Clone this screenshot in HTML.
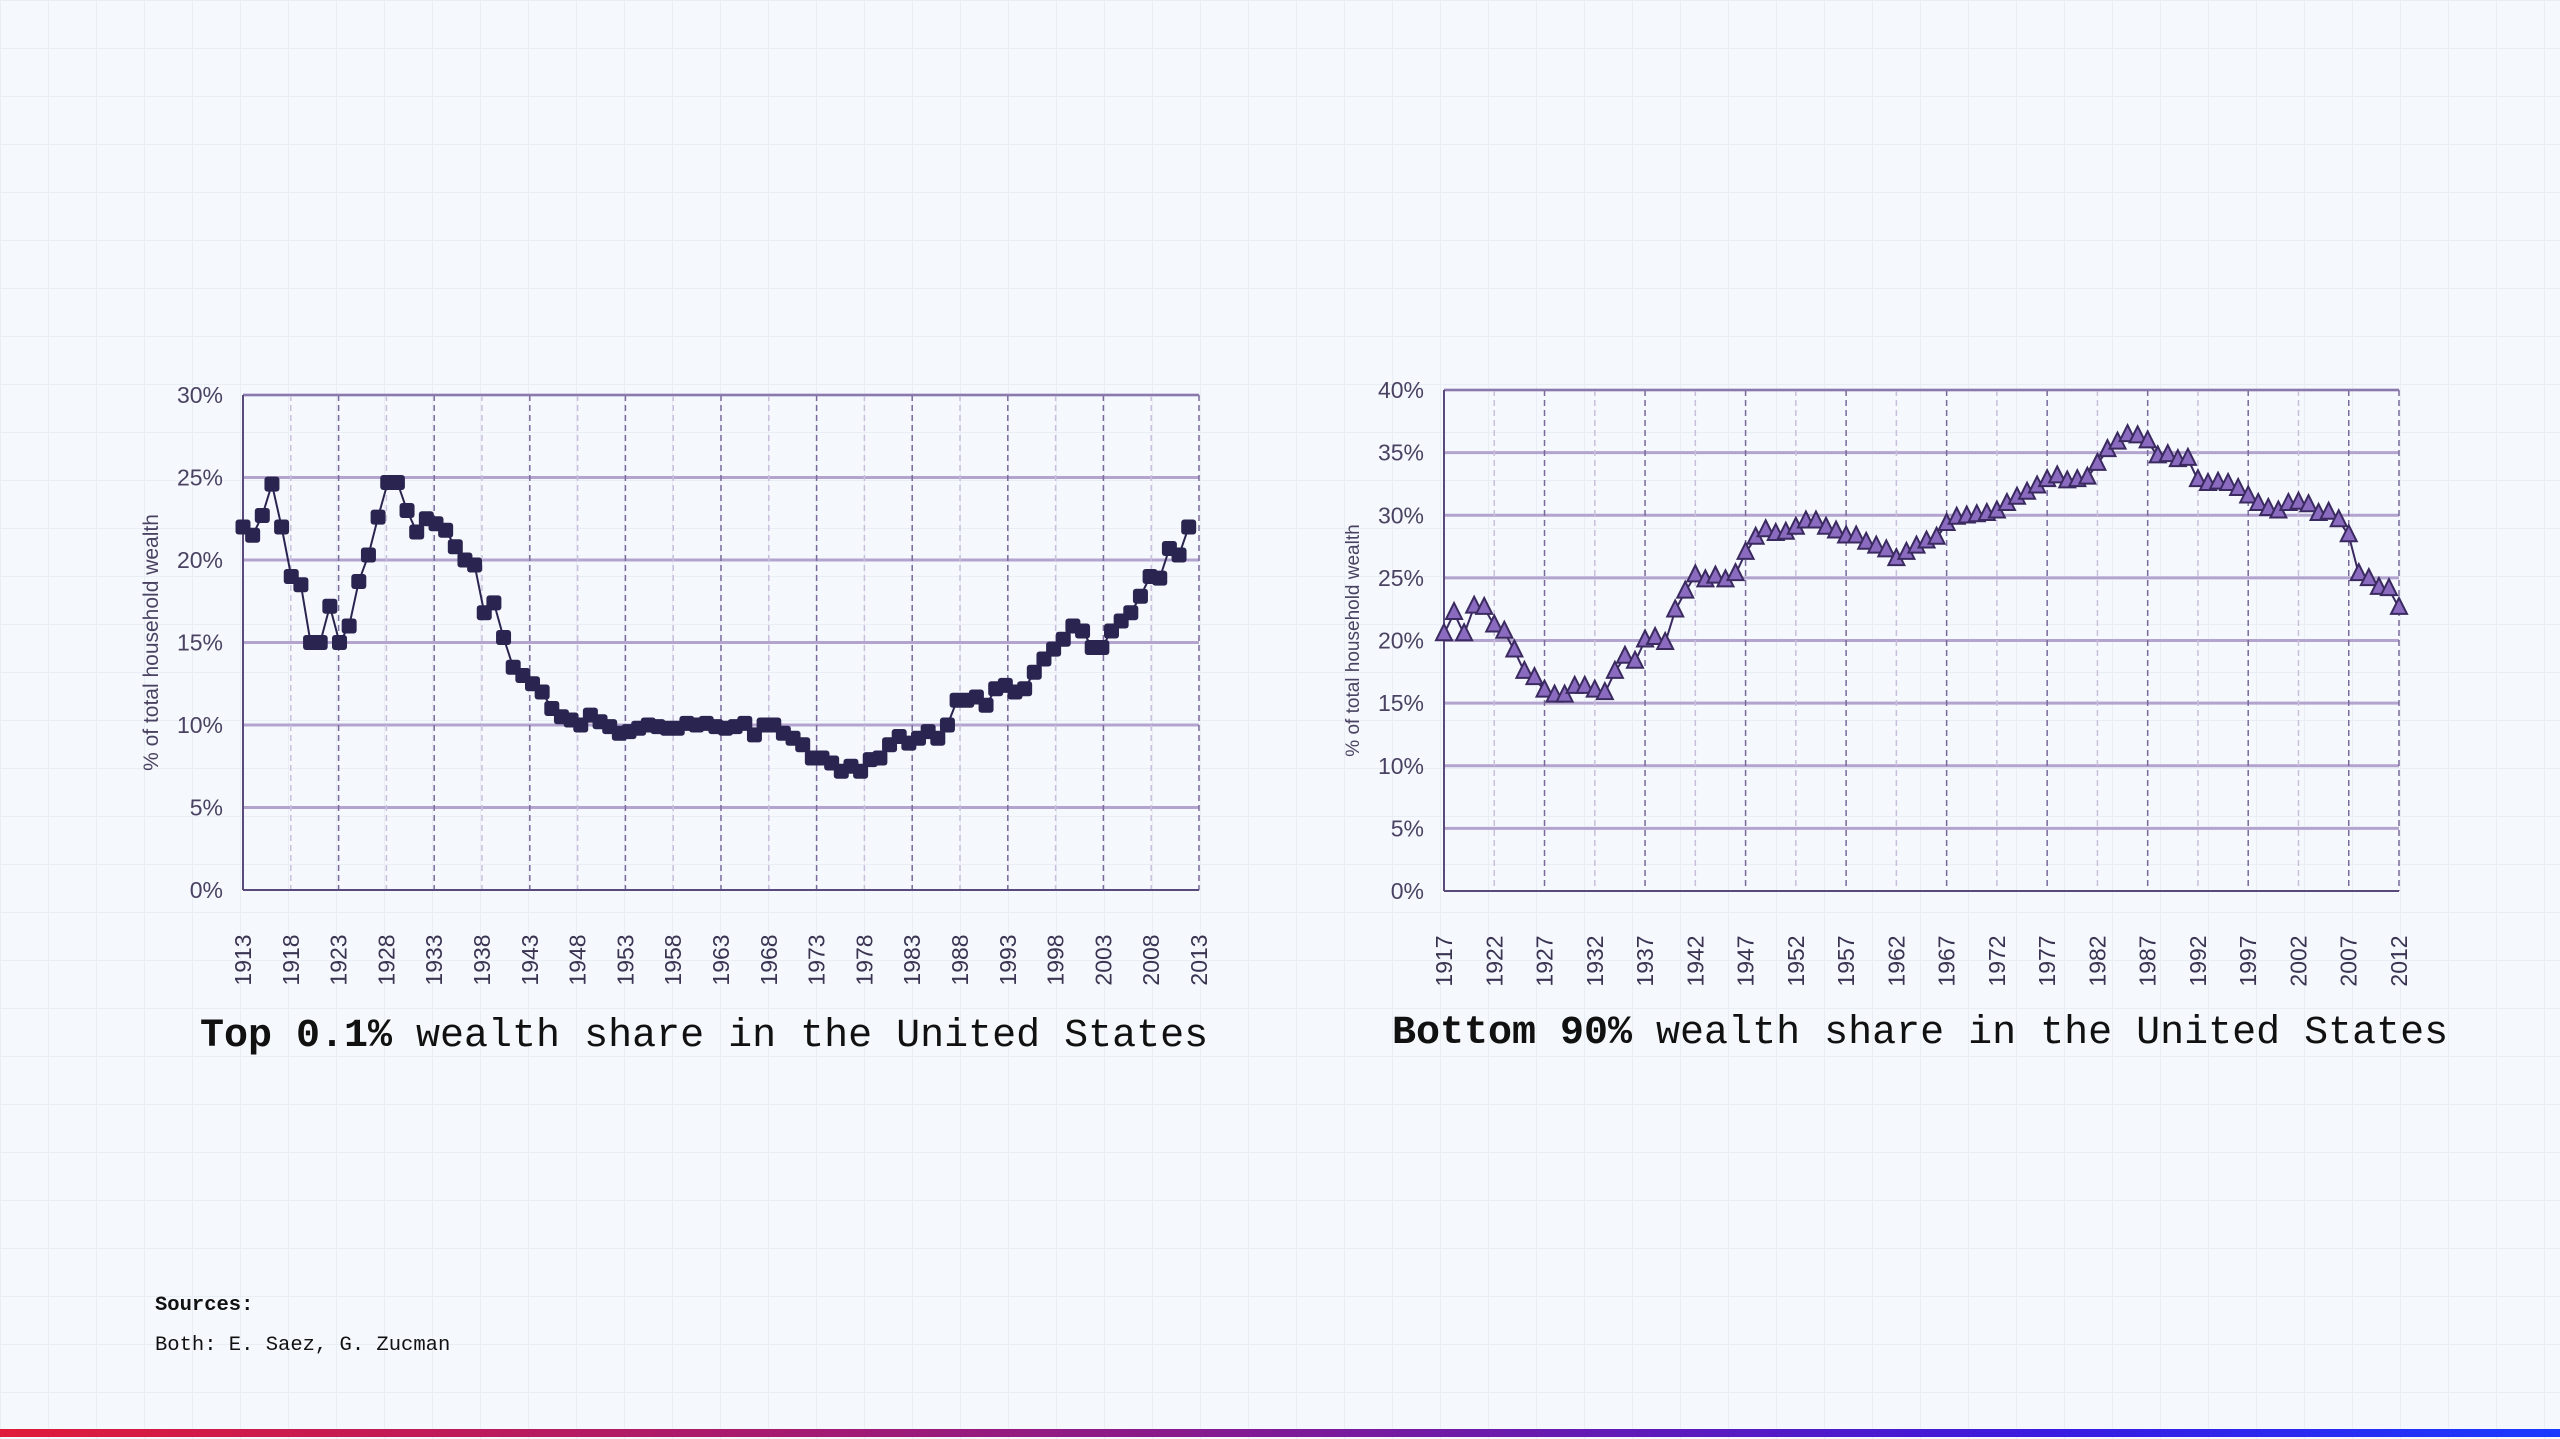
<!DOCTYPE html>
<html><head><meta charset="utf-8"><style>
html,body{margin:0;padding:0}
body{width:2560px;height:1439px;overflow:hidden;position:relative;background:#f5f8fc;
background-image:linear-gradient(#e9eef5 1px,transparent 1px),linear-gradient(90deg,#e9eef5 1px,transparent 1px);background-size:48px 48px;font-family:"Liberation Sans",sans-serif}
.t{position:absolute;font-family:"Liberation Mono",monospace;font-size:40px;color:#111;white-space:nowrap}
.s{position:absolute;font-family:"Liberation Mono",monospace;font-size:20.5px;color:#111;white-space:nowrap}
.bar{position:absolute;left:0;top:1429px;width:2560px;height:8px;background:linear-gradient(90deg,#e01a3a,#8a1a8a 45%,#3a1ae0 80%,#1a3aff)}
svg{position:absolute;left:0;top:0}
</style></head><body>
<svg id="g" width="2560" height="1439"></svg>
<div class="t" style="left:200px;top:1014px"><b>Top 0.1%</b> wealth share in the United States</div>
<div class="t" style="left:1392px;top:1011px"><b>Bottom 90%</b> wealth share in the United States</div>
<div class="s" style="left:155px;top:1294px"><b>Sources:</b></div>
<div class="s" style="left:155px;top:1334px">Both: E. Saez, G. Zucman</div>
<div class="bar"></div>
<script>
var L=[22,21.5,22.7,24.6,22,19,18.5,15,15,17.2,15,16,18.7,20.3,22.6,24.7,24.7,23,21.7,22.5,22.2,21.8,20.8,20,19.7,16.8,17.4,15.3,13.5,13,12.5,12,11,10.5,10.3,10,10.6,10.2,9.9,9.5,9.6,9.8,10,9.9,9.8,9.8,10.1,10,10.1,9.9,9.8,9.9,10.1,9.4,10,10,9.5,9.2,8.8,8,8,7.7,7.2,7.5,7.2,7.9,8,8.8,9.3,8.9,9.2,9.6,9.2,10,11.5,11.5,11.7,11.2,12.2,12.4,12,12.2,13.2,14,14.6,15.2,16,15.7,14.7,14.7,15.7,16.3,16.8,17.8,19,18.9,20.7,20.3,22];
var R=[20.5,22.2,20.5,22.7,22.6,21.2,20.7,19.2,17.5,17,16,15.6,15.6,16.3,16.3,16,15.8,17.5,18.7,18.3,20,20.2,19.8,22.4,23.9,25.2,24.8,25.1,24.8,25.3,27,28.2,28.8,28.5,28.6,29,29.5,29.5,29,28.7,28.3,28.3,27.8,27.5,27.2,26.5,27,27.5,27.9,28.2,29.3,29.8,29.9,30,30.1,30.3,30.9,31.4,31.8,32.3,32.8,33.1,32.7,32.8,33,34.1,35.2,35.8,36.4,36.3,35.9,34.7,34.8,34.4,34.5,32.8,32.5,32.6,32.5,32.1,31.5,30.9,30.5,30.3,30.9,31,30.8,30.1,30.2,29.6,28.4,25.3,24.9,24.2,24.1,22.6];
var s='';
function chart(x0,x1,y0,y1,ymax,y0yr,nInt,data,tri,pw){
 var w=x1-x0,h=y1-y0;
 for(var v=0;v<=ymax;v+=5){var y=y1-v/ymax*h;
  if(v>0)s+='<line x1="'+x0+'" x2="'+x1+'" y1="'+y+'" y2="'+y+'" stroke="#b3a3cf" stroke-width="3"/>';
  s+='<text x="'+(x0-20)+'" y="'+(y+8)+'" text-anchor="end" font-size="23" fill="#4a4262" font-family="Liberation Sans Narrow,Liberation Sans,sans-serif">'+v+'%</text>';}
 for(var i=0;i<=nInt;i++){var x=x0+i*w/nInt;
  if(i>0&&i<nInt)s+='<line x1="'+x+'" x2="'+x+'" y1="'+y0+'" y2="'+y1+'" stroke="'+(i%2?'#c9bfdc':'#7a6a9c')+'" stroke-width="1.5" stroke-dasharray="6,4"/>';
  var yr=y0yr+5*i;
  s+='<text transform="translate('+(x+8)+','+(y1+70)+') rotate(-90)" text-anchor="middle" font-size="23" fill="#3a3352" font-family="Liberation Sans,sans-serif">'+yr+'</text>';}
 s+='<line x1="'+x1+'" x2="'+x1+'" y1="'+y0+'" y2="'+y1+'" stroke="#7a6a9c" stroke-width="1.5" stroke-dasharray="6,4"/>';
 s+='<line x1="'+x0+'" x2="'+x1+'" y1="'+y0+'" y2="'+y0+'" stroke="#8a7aac" stroke-width="2"/>';
 s+='<line x1="'+x0+'" x2="'+x0+'" y1="'+y0+'" y2="'+y1+'" stroke="#5a4a7c" stroke-width="2"/>';
 s+='<line x1="'+x0+'" x2="'+x1+'" y1="'+y1+'" y2="'+y1+'" stroke="#5a4a7c" stroke-width="2"/>';
 s+='<text transform="translate('+(x0-85)+','+((y0+y1)/2)+') rotate(-90)" text-anchor="middle" font-size="'+(tri?19:21)+'" fill="#4a4262">% of total household wealth</text>';
 var pts=[];
 for(var k=0;k<data.length;k++)pts.push([x0+k*pw,y1-data[k]/ymax*h]);
 s+='<polyline fill="none" stroke="'+(tri?'#3a2a60':'#2a2550')+'" stroke-width="2" points="'+pts.map(function(p){return p.join(',')}).join(' ')+'"/>';
 pts.forEach(function(p){
  if(tri)s+='<polygon points="'+p[0]+','+(p[1]-10)+' '+(p[0]-8)+','+(p[1]+6)+' '+(p[0]+8)+','+(p[1]+6)+'" fill="#8a6bbf" stroke="#3a2a60" stroke-width="2"/>';
  else s+='<rect x="'+(p[0]-7.5)+'" y="'+(p[1]-7.5)+'" width="15" height="15" rx="3" fill="#2a2550"/>';});
}
chart(243,1199,395,890,30,1913,20,L,false,9.65);
chart(1444,2399,390,891,40,1917,19,R,true,955/95);
document.getElementById('g').innerHTML=s;
</script>
</body></html>
